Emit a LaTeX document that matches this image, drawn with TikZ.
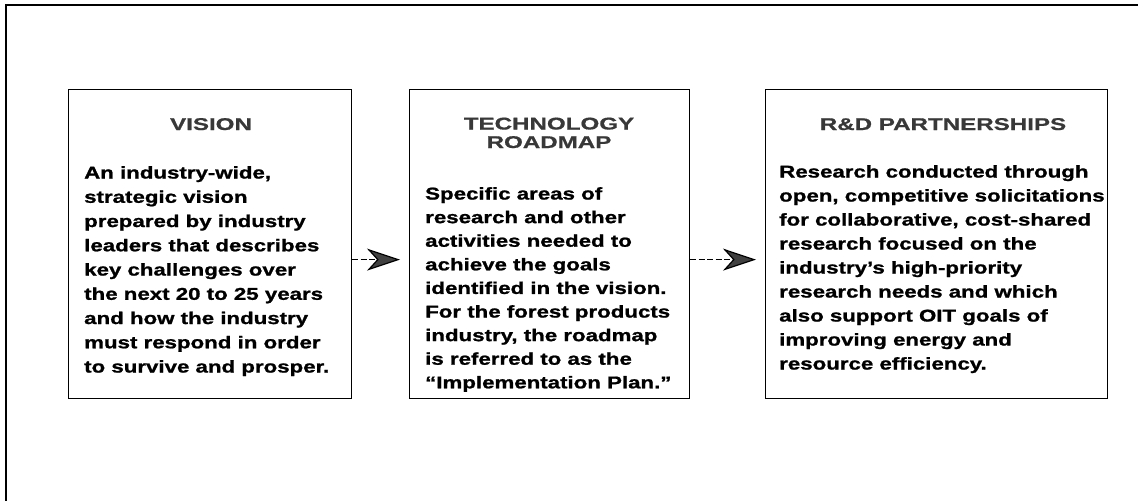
\documentclass[tikz,border=0pt]{standalone}
\usepackage{fontspec}
\usetikzlibrary{arrows.meta}
\newfontfamily\diagfont{Liberation Sans}[FakeStretch=1.31,BoldFeatures={FakeBold=1.2}]
\newfontfamily\titlefont{Liberation Sans}[FakeStretch=1.42,BoldFeatures={FakeBold=0.8}]
\tikzset{
  stagebox/.style={draw, line width=1.2pt, rectangle, inner sep=0pt, anchor=north west},
  headtext/.style={anchor=base, inner sep=0pt, align=center, text=black!78,
    font=\titlefont\bfseries\fontsize{17}{18.5}\selectfont},
  bodytext/.style={anchor=north west, inner sep=0pt, align=left,
    font=\diagfont\bfseries\fontsize{17}{24}\selectfont},
  flowarrow/.style={line width=1.2pt, dash pattern=on 6pt off 2.5pt,
    -{Stealth[length=33pt,width=22pt,inset=10pt,fill=black!75]}, shorten >=9pt},
}
\begin{document}
\begin{tikzpicture}[x=1pt,y=-1pt]
\useasboundingbox (0,0) rectangle (1138,501);
% outer frame (top and left only)
\draw[line width=2pt] (1138,5) -- (6,5) -- (6,501);
% boxes
\node[stagebox, minimum width=283pt, minimum height=309pt] (v) at (68,89) {};
\node[stagebox, minimum width=280pt, minimum height=309pt] (t) at (409,89) {};
\node[stagebox, minimum width=342pt, minimum height=309pt] (r) at (765,89) {};
% titles
\node[headtext] (vh) at (211,130) {VISION};
\node[headtext] (th) at (549,148) {TECHNOLOGY\\ROADMAP};
\node[headtext] (rh) at (943,130) {R\&D PARTNERSHIPS};
% bodies
\node[bodytext, font=\diagfont\bfseries\fontsize{17}{24.25}\selectfont] (vb) at (84,166) {An industry-wide,\\strategic vision\\prepared by industry\\leaders that describes\\key challenges over\\the next 20 to 25 years\\and how the industry\\must respond in order\\to survive and prosper.};
\node[bodytext, font=\diagfont\bfseries\fontsize{17}{23.6}\selectfont] (tb) at (425,187) {Specific areas of\\research and other\\activities needed to\\achieve the goals\\identified in the vision.\\For the forest products\\industry, the roadmap\\is referred to as the\\“Implementation Plan.”};
\node[bodytext] (rb) at (779,165) {Research conducted through\\open, competitive solicitations\\for collaborative, cost-shared\\research focused on the\\industry’s high-priority\\research needs and which\\also support OIT goals of\\improving energy and\\resource efficiency.};
% connectors
\draw[flowarrow] ([yshift=-15.5pt]v.east) -- ([yshift=-15.5pt]t.west);
\draw[flowarrow] ([yshift=-15.5pt]t.east) -- ([yshift=-15.5pt]r.west);
\end{tikzpicture}
\end{document}
